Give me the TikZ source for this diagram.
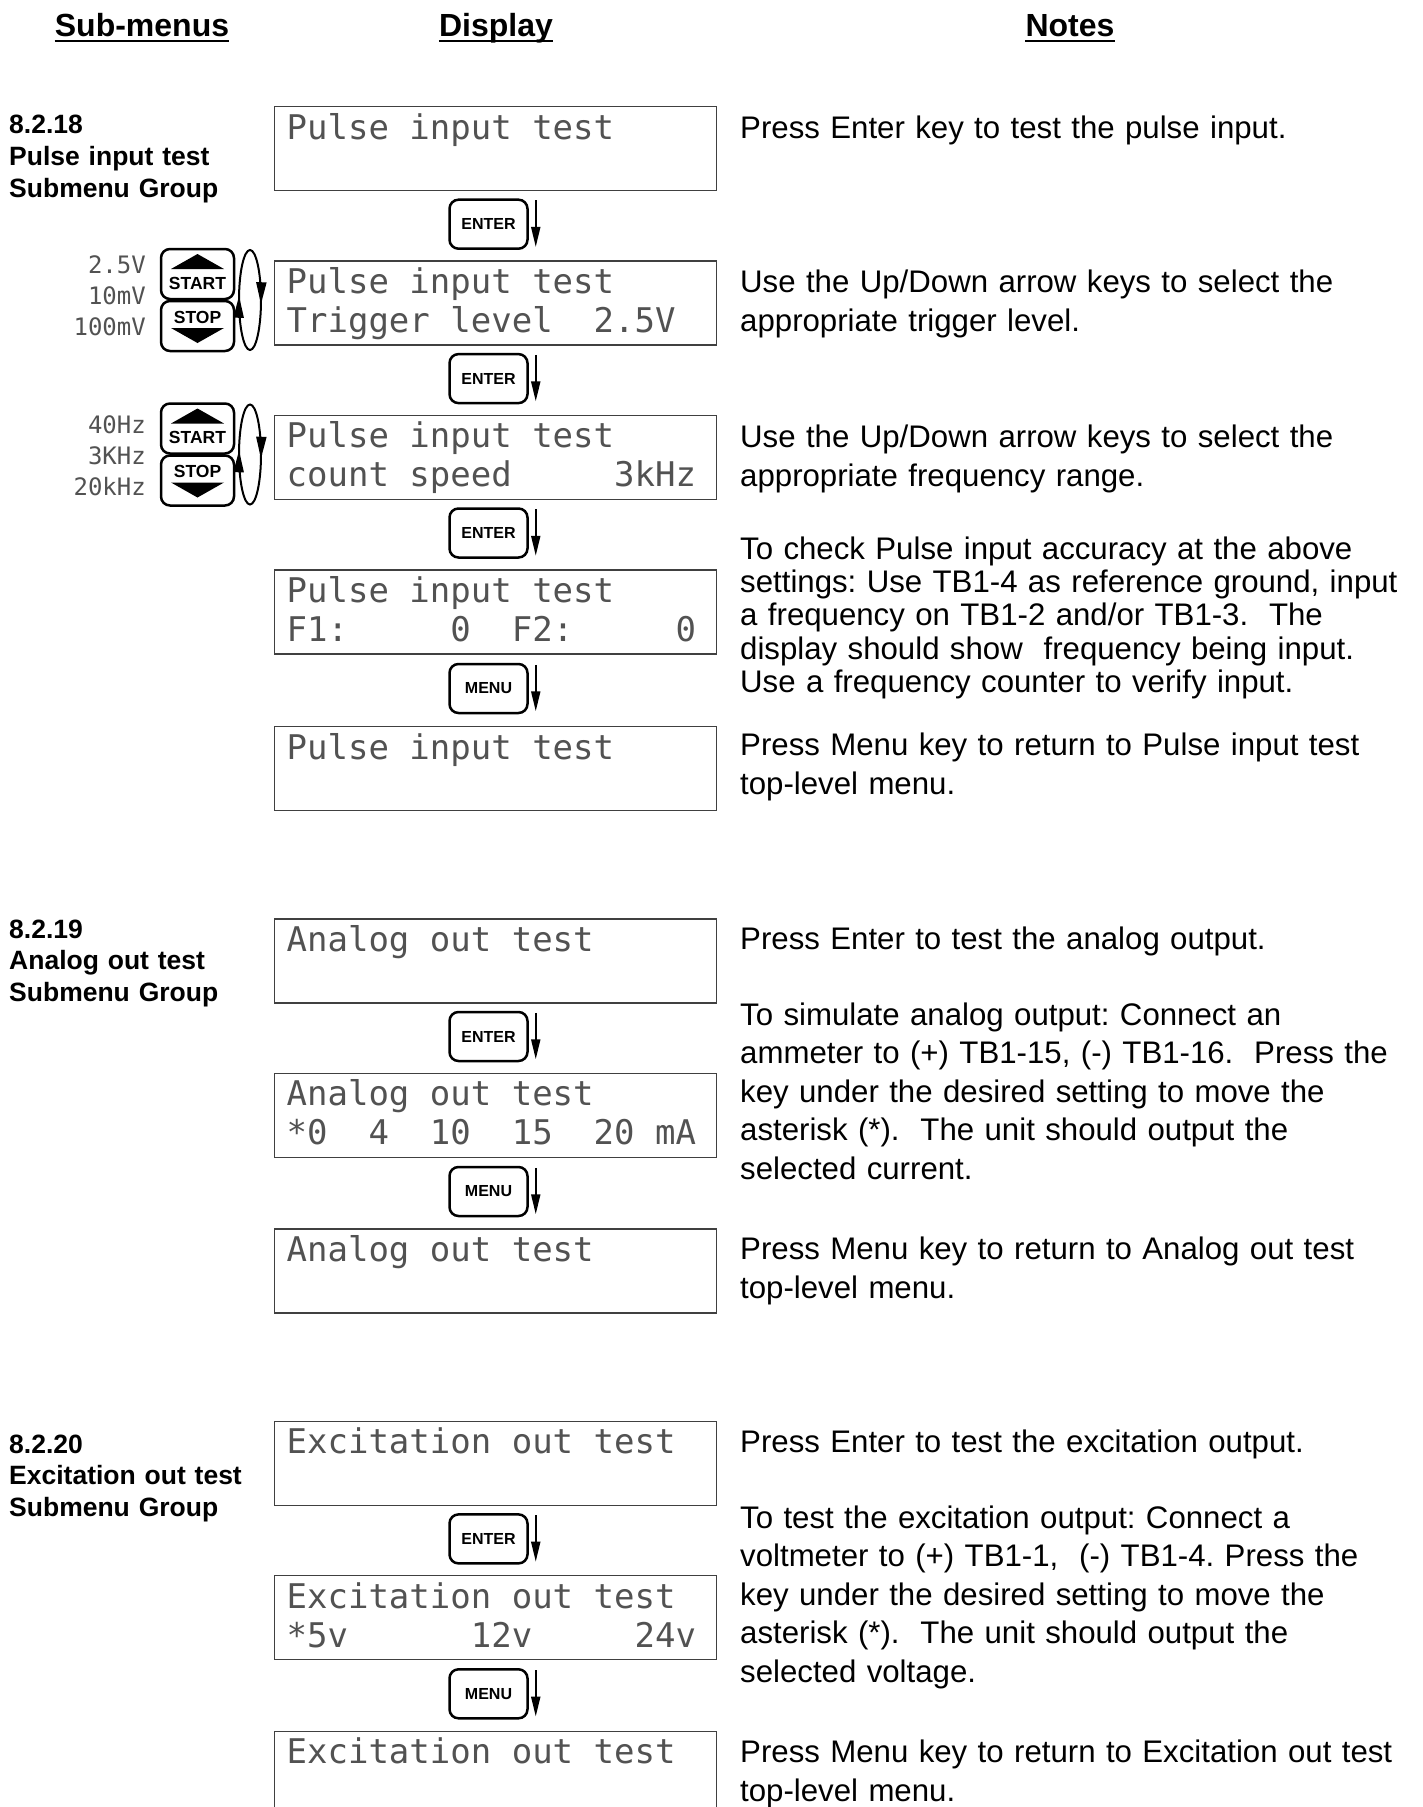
\documentclass[tikz,border=0pt]{standalone}
\usepackage{fontspec}
\setmainfont{Liberation Sans}
\newfontfamily\lcdfont{DejaVu Sans Mono}
\usetikzlibrary{arrows.meta, calc, decorations.markings}

\begin{document}
\begin{tikzpicture}[
    x=1pt, y=-1pt,
    colhead/.style={font=\fontsize{32}{38}\selectfont\bfseries, inner sep=0pt, anchor=base},
    grouplabel/.style={font=\fontsize{26.5}{31.7}\selectfont\bfseries, text width=260pt, align=left, inner sep=0pt, anchor=base west},
    lcd/.style={draw=black!75, line width=1.3pt, text=black!68, font=\fontsize{34}{39}\lcdfont\frenchspacing, execute at begin node={\spaceskip=0.6021em plus 0pt minus 0pt\relax\xspaceskip=0pt\relax}, text width=418pt, align=flush left, inner xsep=12pt, inner ysep=0pt, text height=32.5pt, text depth=51.5pt, anchor=north west},
    note/.style={font=\fontsize{31.2}{39}\selectfont\frenchspacing, text width=675pt, align=left, inner sep=0pt, anchor=base west},
    keybox/.style={draw, line width=2.5pt, rounded corners=9pt, minimum width=78pt, minimum height=49pt, inner sep=0pt, font=\fontsize{16}{18}\selectfont\bfseries},
    sskey/.style={keybox, minimum width=73pt, minimum height=50pt, font=\fontsize{17.5}{20}\selectfont\bfseries},
    levels/.style={font=\fontsize{24}{31}\lcdfont, text=black!68, text width=90pt, align=right, inner sep=0pt, anchor=base east},
    keyarrow/.style={line width=2pt, -{Triangle[length=20pt, width=9pt]}},
    cyclearrow/.style={line width=2pt, postaction={decorate}, decoration={markings,
        mark=at position 0.02 with {\arrow{Triangle[length=22pt, width=10pt]}},
        mark=at position 0.52 with {\arrow{Triangle[length=22pt, width=10pt]}}}}
  ]
  \useasboundingbox[fill=white] (0,0) rectangle (1423,1807);

  % column heads
  \node[colhead] (hsub) at (142,36) {Sub-menus};
  \node[colhead] (hdisp) at (496,36) {Display};
  \node[colhead] (hnotes) at (1070,36) {Notes};
  \draw[line width=2.2pt] ([yshift=-5pt]hsub.base west) -- ([yshift=-5pt]hsub.base east);
  \draw[line width=2.2pt] ([yshift=-5pt]hdisp.base west) -- ([yshift=-5pt]hdisp.base east);
  \draw[line width=2.2pt] ([yshift=-5pt]hnotes.base west) -- ([yshift=-5pt]hnotes.base east);

  % 8.2.18 pulse input
  \node[grouplabel] (grp18) at (9,133.7) {8.2.18\\Pulse input test\\Submenu Group};
  \node[lcd] (pit1) at (274,106) {Pulse input test};
  \node[keybox] (ent1) at (488.5,224.2) {ENTER};
  \node[lcd] (pit2) at (274,260.4) {Pulse input test\\Trigger~level~~2.5V};
  \node[keybox] (ent2) at (488.5,378.6) {ENTER};
  \node[lcd] (pit3) at (274,414.8) {Pulse input test\\count~speed~~~~~3kHz};
  \node[keybox] (ent3) at (488.5,533) {ENTER};
  \node[lcd] (pit4) at (274,569.2) {Pulse input test\\F1:~~~~~0~~F2:~~~~~0};
  \node[keybox] (menu1) at (488.5,688.5) {MENU};
  \node[lcd] (pit5) at (274,725.9) {Pulse input test};

  \node[sskey, text height=30pt, text depth=0pt] (start1) at (197.5,274) {START};
  \node[sskey, text height=12.5pt, text depth=18.5pt] (stop1) at (197.5,326) {STOP};
  \node[levels] (lvl1) at (146,273.5) {2.5V\\10mV\\100mV};
  \coordinate (cyc1) at (250,300);
  \node[sskey, text height=30pt, text depth=0pt] (start2) at (197.5,428.5) {START};
  \node[sskey, text height=12.5pt, text depth=18.5pt] (stop2) at (197.5,480.5) {STOP};
  \node[levels] (lvl2) at (146,433) {40Hz\\3KHz\\20kHz};
  \coordinate (cyc2) at (250,454.5);

  \fill ($(start1)+(0,-20)$) -- ($(start1)+(26.5,-5)$) -- ($(start1)+(-26.5,-5)$) -- cycle;
  \fill ($(stop1)+(0,17)$) -- ($(stop1)+(26.5,2)$) -- ($(stop1)+(-26.5,2)$) -- cycle;
  \fill ($(start2)+(0,-20)$) -- ($(start2)+(26.5,-5)$) -- ($(start2)+(-26.5,-5)$) -- cycle;
  \fill ($(stop2)+(0,17)$) -- ($(stop2)+(26.5,2)$) -- ($(stop2)+(-26.5,2)$) -- cycle;
  \draw[cyclearrow] (cyc1) ellipse [x radius=11, y radius=50];
  \draw[cyclearrow] (cyc2) ellipse [x radius=11, y radius=50];

  \draw[keyarrow] ([xshift=7pt,yshift=-2pt]ent1.north east) -- ([xshift=7pt,yshift=3pt]ent1.south east);
  \draw[keyarrow] ([xshift=7pt,yshift=-2pt]ent2.north east) -- ([xshift=7pt,yshift=3pt]ent2.south east);
  \draw[keyarrow] ([xshift=7pt,yshift=-2pt]ent3.north east) -- ([xshift=7pt,yshift=3pt]ent3.south east);
  \draw[keyarrow] ([xshift=7pt,yshift=-2pt]menu1.north east) -- ([xshift=7pt,yshift=3pt]menu1.south east);

  \node[note] (n1) at (740,138.6) {Press Enter key to test the pulse input.};
  \node[note] (n2) at (740,292.9) {Use the Up/Down arrow keys to select the\\appropriate trigger level.};
  \node[note] (n3) at (740,447.3) {Use the Up/Down arrow keys to select the\\appropriate frequency range.};
  \node[note, font=\fontsize{31.2}{33.4}\selectfont\frenchspacing] (n4) at (740,559) {To check Pulse input accuracy at the above\\settings: Use TB1-4 as reference ground, input\\a frequency on TB1-2 and/or TB1-3.~ The\\display should show~ frequency being input.\\Use a frequency counter to verify input.};
  \node[note, font=\fontsize{31.2}{39.5}\selectfont\frenchspacing] (n5) at (740,755) {Press Menu key to return to Pulse input test\\top-level menu.};

  % 8.2.19 analog out
  \node[grouplabel] (grp19) at (9,938) {8.2.19\\Analog out test\\Submenu Group};
  \node[lcd] (aot1) at (274,918.3) {Analog out test};
  \node[keybox] (ent4) at (488.5,1036.5) {ENTER};
  \node[lcd] (aot2) at (274,1072.7) {Analog out test\\{*}0~~4~~10~~15~~20~mA};
  \node[keybox] (menu2) at (488.5,1191.5) {MENU};
  \node[lcd] (aot3) at (274,1228.2) {Analog out test};

  \draw[keyarrow] ([xshift=7pt,yshift=-2pt]ent4.north east) -- ([xshift=7pt,yshift=3pt]ent4.south east);
  \draw[keyarrow] ([xshift=7pt,yshift=-2pt]menu2.north east) -- ([xshift=7pt,yshift=3pt]menu2.south east);

  \node[note] (n6) at (740,949) {Press Enter to test the analog output.};
  \node[note, font=\fontsize{31.2}{38.6}\selectfont\frenchspacing] (n7) at (740,1025) {To simulate analog output: Connect an\\ammeter to (+) TB1-15, (-) TB1-16.~ Press the\\key under the desired setting to move the\\asterisk (*).~ The unit should output the\\selected current.};
  \node[note] (n8) at (740,1259) {Press Menu key to return to Analog out test\\top-level menu.};

  % 8.2.20 excitation out
  \node[grouplabel] (grp20) at (9,1453) {8.2.20\\Excitation out test\\Submenu Group};
  \node[lcd] (eot1) at (274,1420.7) {Excitation out test};
  \node[keybox] (ent5) at (488.5,1538.9) {ENTER};
  \node[lcd] (eot2) at (274,1575) {Excitation out test\\{*}5v~~~~~~12v~~~~~24v};
  \node[keybox] (menu3) at (488.5,1693.8) {MENU};
  \node[lcd] (eot3) at (274,1730.6) {Excitation out test};

  \draw[keyarrow] ([xshift=7pt,yshift=-2pt]ent5.north east) -- ([xshift=7pt,yshift=3pt]ent5.south east);
  \draw[keyarrow] ([xshift=7pt,yshift=-2pt]menu3.north east) -- ([xshift=7pt,yshift=3pt]menu3.south east);

  \node[note] (n9) at (740,1452) {Press Enter to test the excitation output.};
  \node[note, font=\fontsize{31.2}{38.6}\selectfont\frenchspacing] (n10) at (740,1528) {To test the excitation output: Connect a\\voltmeter to (+) TB1-1,~ (-) TB1-4. Press the\\key under the desired setting to move the\\asterisk (*).~ The unit should output the\\selected voltage.};
  \node[note] (n11) at (740,1762) {Press Menu key to return to Excitation out test\\top-level menu.};
\end{tikzpicture}
\end{document}
